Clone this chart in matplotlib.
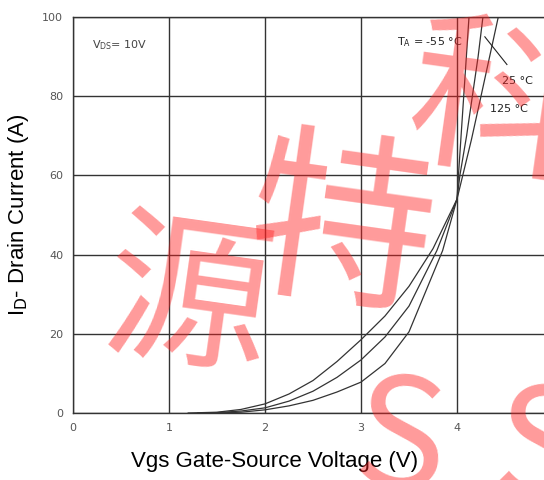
import matplotlib
matplotlib.use('Agg')
import matplotlib.pyplot as plt

# ---- data ----
vgs_125 = [1.20, 1.50, 1.75, 2.00, 2.25, 2.50, 2.75, 3.00, 3.25, 3.50, 3.75, 4.00, 4.06, 4.15, 4.25, 4.34, 4.43]
id_125 = [0.0, 0.2, 0.9, 2.3, 4.8, 8.2, 13.0, 18.5, 24.5, 32.0, 41.5, 54.0, 60.0, 69.0, 80.0, 90.0, 100.0]

vgs_25 = [1.30, 1.50, 1.75, 2.00, 2.25, 2.50, 2.75, 3.00, 3.25, 3.50, 3.79, 4.00, 4.03, 4.10, 4.16, 4.22, 4.27]
id_25 = [0.0, 0.1, 0.5, 1.3, 3.0, 5.5, 9.0, 13.4, 19.2, 27.0, 41.0, 54.0, 60.0, 70.0, 80.0, 90.0, 100.0]

vgs_m55 = [1.50, 1.75, 2.00, 2.25, 2.50, 2.75, 3.00, 3.25, 3.50, 3.85, 4.00, 4.015, 4.07, 4.125]
id_m55 = [0.0, 0.2, 0.8, 1.8, 3.2, 5.3, 7.8, 12.5, 20.5, 41.0, 54.0, 60.0, 80.0, 100.0]

x_ticks = [0, 1, 2, 3, 4, 5]
y_ticks = [0, 20, 40, 60, 80, 100]

watermark_chars = ['源', '特', '科', 'S', 'S']

fig = plt.figure(figsize=(5.44, 4.8), dpi=100)
ax = fig.add_axes([73 / 544, 67 / 480, 480 / 544, 396 / 480])

for xs, ys in [(vgs_125, id_125), (vgs_25, id_25), (vgs_m55, id_m55)]:
    ax.plot(xs, ys, color='#333333', lw=0.9, zorder=3)

ax.set_xlim(0, 5)
ax.set_ylim(0, 100)
ax.set_xticks(x_ticks)
ax.set_yticks(y_ticks)
ax.tick_params(length=0, labelsize=8, colors='#555555', pad=7)
ax.grid(True, color='#333333', lw=1.0)
for s in ax.spines.values():
    s.set_color('#333333')
    s.set_linewidth(1.0)

ax.set_xlabel('Vgs Gate-Source Voltage (V)', fontsize=16, family='Liberation Sans')
ax.xaxis.set_label_coords(0.42, -0.095)
ax.set_ylabel(r'I$_{\mathrm{D}}$- Drain Current (A)', fontsize=16, family='Liberation Sans', labelpad=8)

# annotations
ax.text(0.2, 92, r'V$_{\mathrm{DS}}$= 10V', fontsize=8, color='#444444')
ax.text(3.38, 93, r'T$_{\mathrm{A}}$ = -55 °C', fontsize=8, color='#222222')
ax.text(4.47, 83, '25 °C', fontsize=8, color='#222222')
ax.text(4.34, 76, '125 °C', fontsize=8, color='#222222')
ax.plot([4.29, 4.52], [95, 88], color='#222222', lw=0.8, zorder=3)

# red watermark
wm = dict(color='#ff2020', alpha=0.45, family=['Noto Sans CJK SC', 'DejaVu Sans'],
          ha='center', va='center', zorder=10)
fig.text(188 / 544, 1 - 305 / 480, watermark_chars[0], fontsize=120, rotation=-8, **wm)
fig.text(340 / 544, 1 - 235 / 480, watermark_chars[1], fontsize=135, rotation=-8, **wm)
fig.text(495 / 544, 1 - 110 / 480, watermark_chars[2], fontsize=125, rotation=-8, **wm)
fig.text(400 / 544, 1 - 445 / 480, watermark_chars[3], fontsize=110, rotation=-5, **wm)
fig.text(540 / 544, 1 - 455 / 480, watermark_chars[4], fontsize=110, rotation=-5, **wm)

fig.savefig('out.png', dpi=100)
